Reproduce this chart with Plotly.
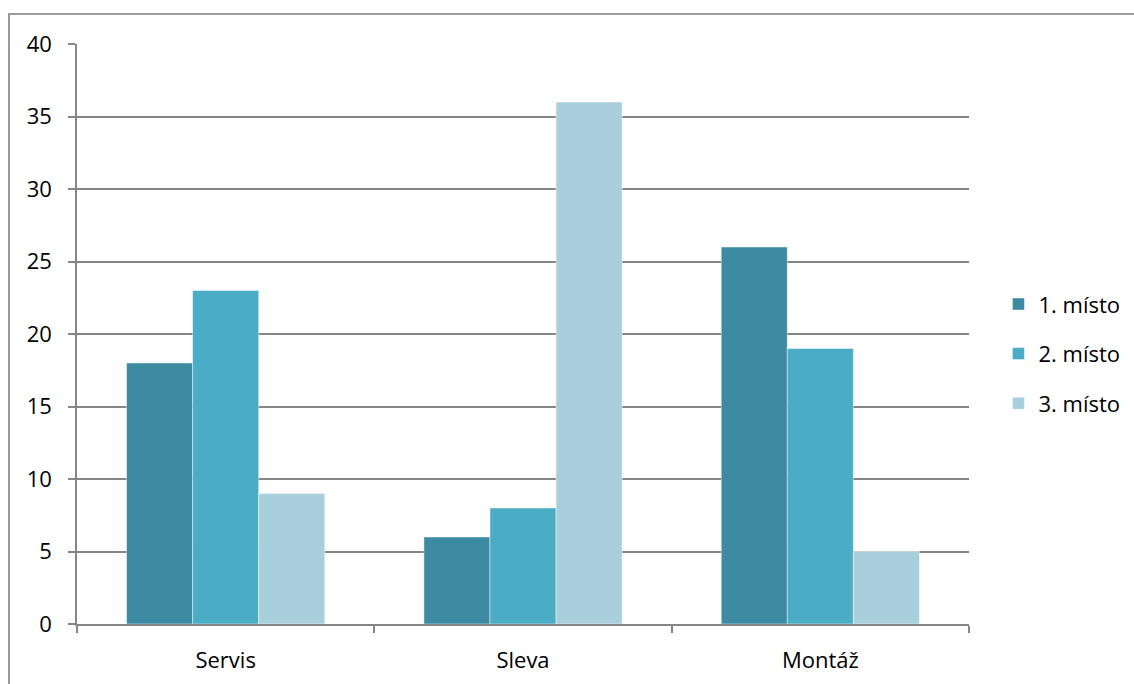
import plotly.graph_objects as go

categories = ["Servis", "Sleva", "Montáž"]
series_names = ["1. místo", "2. místo", "3. místo"]
misto_1 = [18, 6, 26]
misto_2 = [23, 8, 19]
misto_3 = [9, 36, 5]
colors = ["#3C8BA2", "#4BACC6", "#A9CFDD"]

fig = go.Figure()
for i, (name, vals, col) in enumerate(zip(series_names, [misto_1, misto_2, misto_3], colors)):
    fig.add_trace(go.Bar(
        x=categories, y=vals, name=name, legendgroup=f"g{i}",
        marker=dict(color=col, line=dict(color="rgba(255,255,255,0.45)", width=1)),
    ))

grid = "#868686"
fig.update_layout(
    width=1134, height=684,
    margin=dict(l=77, r=165, t=44, b=60, autoexpand=False),
    paper_bgcolor="white", plot_bgcolor="white",
    barmode="group", bargap=1/3, bargroupgap=0,
    font=dict(family="Open Sans, Noto Sans, sans-serif", size=22, color="#000000"),
    legend=dict(x=1.033, y=0.466, xanchor="left", yanchor="middle",
                font=dict(size=22), tracegroupgap=18, itemwidth=30,
                traceorder="grouped"),
    showlegend=True,
    xaxis=dict(
        type="category", tickson="boundaries", ticks="outside", ticklen=7,
        tickcolor=grid, tickwidth=1.5, showline=True, linecolor=grid, linewidth=1.5,
        showgrid=False, ticklabelstandoff=16, range=[-0.5, 2.5],
    ),
    yaxis=dict(
        range=[0, 40], dtick=5, ticks="outside", ticklen=7, tickcolor=grid, tickwidth=1.5,
        showline=True, linecolor=grid, linewidth=1.5, showgrid=True, gridcolor=grid,
        gridwidth=1.5, zeroline=False, ticklabelstandoff=12,
    ),
    shapes=[dict(
        type="rect", xref="paper", yref="paper",
        x0=(9 - 77) / 892, x1=1.3, y0=-0.3, y1=1 + (44 - 14) / 580,
        line=dict(color="#9A9A9A", width=2), fillcolor="rgba(0,0,0,0)", layer="below",
    )],
)

fig.write_html("out.html")
